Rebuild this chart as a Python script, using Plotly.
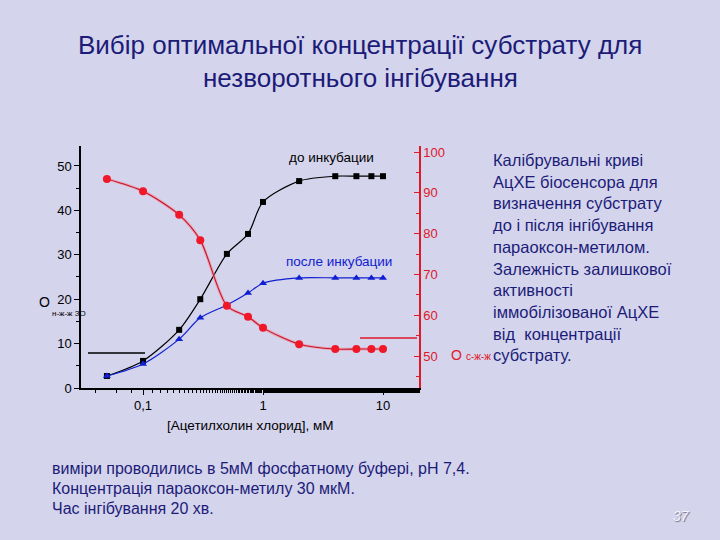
import plotly.graph_objects as go

# ---- data ----
conc = [0.05, 0.1, 0.2, 0.3, 0.5, 0.75, 1, 2, 4, 6, 8, 10]
before_inc = [2.7, 6.1, 13.1, 20.0, 30.2, 34.7, 41.9, 46.6, 47.7, 47.7, 47.7, 47.7]
after_inc = [2.7, 5.4, 11.0, 15.8, 18.7, 21.4, 23.6, 24.8, 24.8, 24.8, 24.8, 24.8]
residual = [93.4, 90.4, 84.6, 78.4, 62.3, 59.6, 56.9, 52.9, 51.7, 51.7, 51.7, 51.7]

x_tickvals = [0.1, 1, 10]
x_ticktext = ["0,1", "1", "10"]
left_ticks = [0, 10, 20, 30, 40, 50]
right_ticks = [50, 60, 70, 80, 90, 100]

title_lines = ["Вибір оптимальної концентрації субстрату для", "незворотнього інгібування"]
side_lines = ["Калібрувальні криві", "АцХЕ біосенсора для", "визначення субстрату",
              "до і після інгібування", "параоксон-метилом.", "Залежність залишкової",
              "активності", "іммобілізованої АцХЕ", "від  концентрації", "субстрату."]
bottom_lines = ["виміри проводились в 5мМ фосфатному буфері, рН 7,4.",
                "Концентрація параоксон-метилу 30 мкМ.",
                "Час інгібування 20 хв."]

# ---- layout geometry (pixels) ----
W, H = 720, 540
L, R, T, B = 81, 419, 146, 388
BG = "#d4d4ed"
NAVY = "#1c1c78"
RED = "#e01828"
BLUE = "#1020d0"
FONT = "Liberation Sans, Arial, sans-serif"


def px(x):
    return (x - L) / (R - L)


def py(y):
    return (B - y) / (B - T)


def note(text, x, y, size, color, xanchor="center", **extra):
    font = dict(size=size, color=color, family=FONT)
    font.update(extra)
    return dict(text=text, x=px(x), y=py(y), xref="paper", yref="paper", showarrow=False,
                xanchor=xanchor, yanchor="middle", font=font)


fig = go.Figure()
fig.add_trace(go.Scatter(x=conc, y=before_inc, mode="lines+markers", name="до инкубации",
                         line=dict(color="black", width=1.2, shape="spline", smoothing=0.8),
                         marker=dict(symbol="square", size=6, color="black")))
fig.add_trace(go.Scatter(x=conc, y=after_inc, mode="lines+markers", name="после инкубации",
                         line=dict(color=BLUE, width=1.2, shape="spline", smoothing=0.8),
                         marker=dict(symbol="triangle-up", size=7, color=BLUE)))
fig.add_trace(go.Scatter(x=conc, y=residual, mode="lines", yaxis="y2", showlegend=False,
                         line=dict(color="rgba(255,120,140,0.55)", width=3, shape="spline", smoothing=0.8),
                         hoverinfo="skip"))
fig.add_trace(go.Scatter(x=conc, y=residual, mode="lines+markers", yaxis="y2", name="остаточная активность",
                         line=dict(color="#c01828", width=1.1, shape="spline", smoothing=0.8),
                         marker=dict(symbol="circle", size=8, color="#f01828")))

anns = []
for i, t in enumerate(title_lines):
    anns.append(note(t, 360, 45 + 33 * i, 26, NAVY))
for i, t in enumerate(side_lines):
    anns.append(note(t, 491, 160 + 21.7 * i, 16.5, NAVY, xanchor="left"))
for i, t in enumerate(bottom_lines):
    anns.append(note(t, 50, 468 + 20 * i, 16, NAVY, xanchor="left"))

anns += [
    note("до инкубации", 331, 157, 13.5, "black"),
    note("после инкубации", 339, 261, 13.5, BLUE),
    note("[Ацетилхолин хлорид], мМ", 250, 425, 13.5, "black"),
    note("О", 37, 302, 14, "black", xanchor="left"),
    note("н-ж-ж ЗО", 50, 313, 8, "black", xanchor="left"),
    note("О", 457, 355, 14, RED),
    note("с-ж-ж", 464, 356, 10, RED, xanchor="left"),
    note("<i>37</i>", 681, 516, 14, "#f4f4ff", shadow="1px 1px 1px #707080"),
]

shapes = [
    dict(type="line", xref="paper", yref="paper", x0=px(88), x1=px(145), y0=py(353), y1=py(353),
         line=dict(color="black", width=1.3)),
    dict(type="line", xref="paper", yref="paper", x0=px(360), x1=px(417), y0=py(338), y1=py(338),
         line=dict(color=RED, width=1.3)),
]

fig.update_layout(
    width=W, height=H,
    margin=dict(l=L, r=W - R, t=T, b=H - B, pad=0),
    paper_bgcolor=BG, plot_bgcolor=BG,
    showlegend=False,
    font=dict(family=FONT, color="black"),
    xaxis=dict(type="log", range=[-1.517, 1.3], tickvals=x_tickvals, ticktext=x_ticktext,
               showgrid=False, zeroline=False, showline=True, linecolor="black", linewidth=1.5,
               ticks="outside", ticklen=5, tickcolor="black",
               minor=dict(ticks="outside", ticklen=3, tickcolor="black", showgrid=False),
               tickfont=dict(size=13, color="black")),
    yaxis=dict(range=[0, 54.5], tickvals=left_ticks, showgrid=False, zeroline=False,
               showline=True, linecolor="black", linewidth=1.5, ticks="outside", ticklen=5,
               tickcolor="black", minor=dict(ticks="outside", ticklen=3, dtick=5, tickcolor="black"),
               tickfont=dict(size=13, color="black")),
    yaxis2=dict(range=[42.16, 101.47], tickvals=right_ticks, overlaying="y", side="right",
                showgrid=False, zeroline=False, showline=True, linecolor=RED, linewidth=1.5,
                ticks="inside", ticklen=5, tickcolor=RED,
                minor=dict(ticks="inside", ticklen=3, dtick=5, tickcolor=RED),
                tickfont=dict(size=13, color=RED)),
    annotations=anns,
    shapes=shapes,
)

fig.write_html("out.html", config={"displayModeBar": False},
               post_script="document.body.style.margin='0';document.body.style.background='%s';" % BG)
